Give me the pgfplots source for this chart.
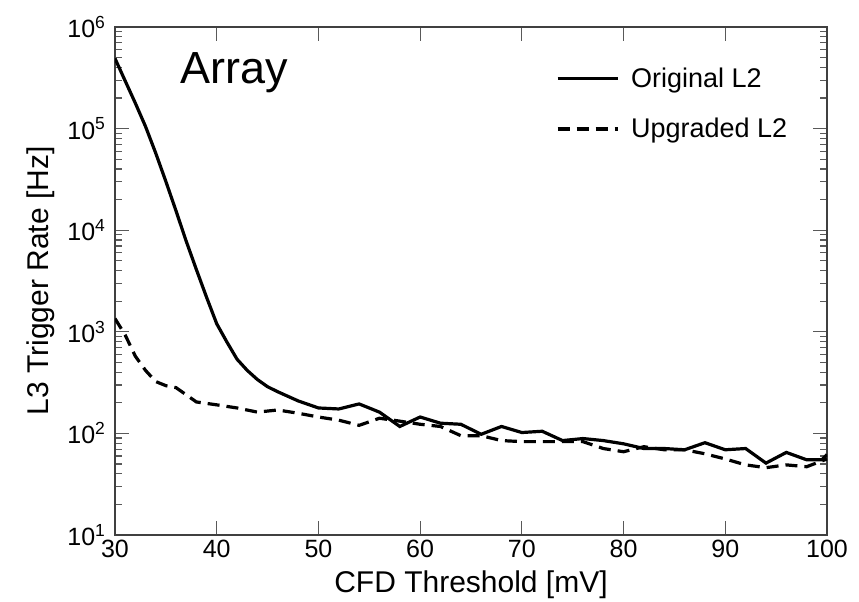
\documentclass[border=0pt]{standalone}
\usepackage{pgfplots}
\pgfplotsset{compat=1.18}
\usepackage{fontspec}
\setmainfont{Liberation Sans}
\begin{document}
\begin{tikzpicture}
\begin{axis}[
  ymode=log,
  scale only axis,
  width=712pt, height=508pt,
  xmin=30, xmax=100, ymin=10, ymax=1000000,
  xtick={30,40,50,60,70,80,90,100},
  ytick={10,100,1000,10000,100000,1000000},
  yticklabels={10\textsuperscript{1},10\textsuperscript{2},10\textsuperscript{3},10\textsuperscript{4},10\textsuperscript{5},10\textsuperscript{6}},
  /pgf/number format/assume math mode=true,
  tick align=inside,
  major tick length=14pt,
  minor tick length=7pt,
  axis line style={line width=2pt, black!75},
  every tick/.style={line width=1.2pt, black!65},
  ticklabel style={font=\fontsize{25}{30}\selectfont},
  xticklabel style={yshift=-2pt},
  yticklabel style={xshift=-6pt},
  xlabel={CFD Threshold [mV]},
  ylabel={L3 Trigger Rate [Hz]},
  label style={font=\fontsize{30}{36}\selectfont},
  xlabel style={yshift=-6pt},
  ylabel style={yshift=6pt},
  legend style={draw=none, fill=none, at={(rel axis cs:0.619,0.923)}, anchor=north west,
    font=\fontsize{27}{32}\selectfont, row sep=25pt, inner sep=0pt,
    nodes={inner sep=2pt}},
  legend cell align=left,
  legend image code/.code={\draw[#1] (0pt,0pt) -- (60pt,0pt); \path (70pt,0pt);},
]
\addplot[black, line width=3.2pt] table {
x y
30 490000
31 295000
32 178000
33 105000
34 57500
35 30200
36 15500
37 7800
38 4100
39 2190
40 1200
41 794
42 537
43 417
44 339
45 288
46 257
48 209
50 178
52 174
54 195
56 162
58 117
60 145
62 126
64 123
66 98
68 117
70 102
72 105
74 85
76 89
78 85
80 79
82 71
84 71
86 69
88 81
90 69
92 71
94 51
96 65
98 55
99.5 55
100 62
};
\addlegendentry{Original L2}
\addplot[black, line width=3.2pt, dash pattern=on 12pt off 7pt] table {
x y
30 1350
31 930
32 575
33 417
34 324
35 295
36 282
37 240
38 204
40 191
42 178
44 162
46 170
48 158
50 145
52 135
54 120
56 141
58 132
60 123
62 117
64 95
66 95
68 85
70 83
72 83
74 83
76 83
78 71
80 66
82 74
84 69
86 69
88 63
90 56
92 49
94 46
96 49
98 47
100 56
};
\addlegendentry{Upgraded L2}
\node[anchor=base west, font=\fontsize{45}{50}\selectfont, inner sep=0pt] at (rel axis cs:0.0913,0.888) {Array};
\coordinate (sw) at (rel axis cs:0,0);
\coordinate (ne) at (rel axis cs:1,1);
\end{axis}
\pgfresetboundingbox
\path ([shift={(-115pt,-66pt)}]sw) rectangle ([shift={(32pt,27pt)}]ne);
\end{tikzpicture}
\end{document}
